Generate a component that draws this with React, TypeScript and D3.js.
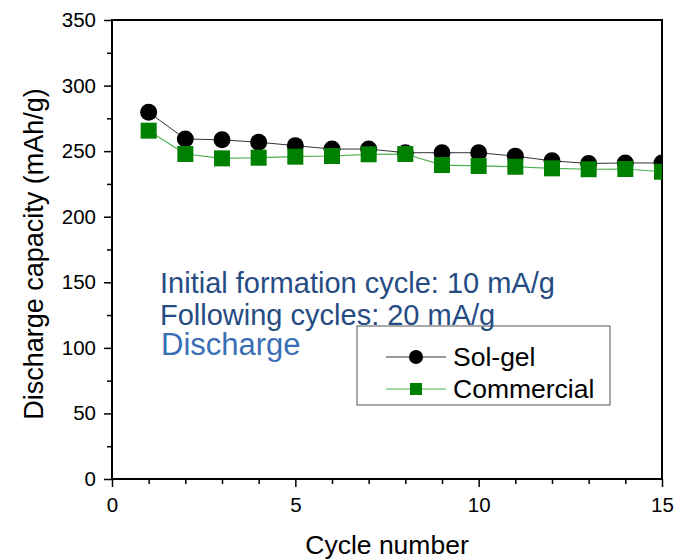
import * as d3 from 'd3';
import { useEffect, useRef } from 'react';

const cycles = [1, 2, 3, 4, 5, 6, 7, 8, 9, 10, 11, 12, 13, 14, 15];
const solGel = [279.6, 259.3, 258.6, 256.8, 254.2, 251.6, 251.6, 248.8, 248.8, 248.8, 246.2, 242.6, 240.6, 241, 241];
const commercial = [265.6, 247.8, 244.5, 245, 245.8, 246.3, 247.6, 247.8, 239.4, 238.7, 238.1, 236.9, 236.2, 236.4, 234.3];
const xTicks = [0, 5, 10, 15];
const yTicks = [0, 50, 100, 150, 200, 250, 300, 350];
const notes = ['Initial formation cycle: 10 mA/g', 'Following cycles: 20 mA/g'];

const W = 684;
const H = 560;
const m = { left: 112, right: 22, top: 20, bottom: 81 };
const FONT = '"Liberation Sans", Arial, sans-serif';

const App = () => {
  const ref = useRef<SVGSVGElement | null>(null);

  useEffect(() => {
    if (!ref.current) return;
    const svg = d3.select(ref.current);
    svg.selectAll('*').remove();

    const x = d3.scaleLinear().domain([0, 15]).range([m.left, W - m.right]);
    const y = d3.scaleLinear().domain([0, 350]).range([H - m.bottom, m.top]);

    svg.append('rect').attr('width', W).attr('height', H).attr('fill', 'white');

    svg.append('defs').append('clipPath').attr('id', 'plotclip')
      .append('rect')
      .attr('x', m.left).attr('y', m.top)
      .attr('width', W - m.left - m.right).attr('height', H - m.top - m.bottom);

    // axes
    const xAxis = svg.append('g').attr('transform', `translate(0,${H - m.bottom})`)
      .call(d3.axisBottom(x).tickValues(d3.range(0, 16)).tickSize(8)
        .tickFormat(d => (xTicks.includes(+d) ? String(d) : '')));
    xAxis.selectAll('.tick line').attr('y2', (d: any) => (xTicks.includes(d) ? 8 : 5));
    const yAxis = svg.append('g').attr('transform', `translate(${m.left},0)`)
      .call(d3.axisLeft(y).tickValues(d3.range(0, 351, 25)).tickSize(8)
        .tickFormat(d => (yTicks.includes(+d) ? String(d) : '')));
    yAxis.selectAll('.tick line').attr('x2', (d: any) => (yTicks.includes(d) ? -8 : -5));
    [xAxis, yAxis].forEach(a => {
      a.selectAll('.domain').remove();
      a.selectAll('.tick line').attr('stroke', '#000').attr('stroke-width', 1.5);
      a.selectAll('text').attr('font-family', FONT).attr('font-size', 20.5).attr('fill', '#000');
    });
    xAxis.selectAll('text').attr('dy', '1.05em');
    yAxis.selectAll('text').attr('x', -16);

    svg.append('rect')
      .attr('x', m.left).attr('y', m.top)
      .attr('width', W - m.left - m.right).attr('height', H - m.top - m.bottom)
      .attr('fill', 'none').attr('stroke', '#000').attr('stroke-width', 2);

    const plot = svg.append('g').attr('clip-path', 'url(#plotclip)');
    const line = d3.line<number>().x((_, i) => x(cycles[i])).y(d => y(d));

    plot.append('path').datum(solGel).attr('d', line)
      .attr('fill', 'none').attr('stroke', '#333').attr('stroke-width', 1);
    plot.selectAll('.sg').data(solGel).enter().append('circle')
      .attr('cx', (_, i) => x(cycles[i])).attr('cy', d => y(d)).attr('r', 8.5).attr('fill', '#000');

    plot.append('path').datum(commercial).attr('d', line)
      .attr('fill', 'none').attr('stroke', '#4caf50').attr('stroke-width', 1.2);
    plot.selectAll('.cm').data(commercial).enter().append('rect')
      .attr('x', (_, i) => x(cycles[i]) - 8).attr('y', d => y(d) - 8)
      .attr('width', 16).attr('height', 16).attr('fill', '#008000');

    // legend
    const lg = svg.append('g');
    lg.append('rect').attr('x', 357).attr('y', 326).attr('width', 253).attr('height', 79)
      .attr('fill', 'white').attr('stroke', '#555').attr('stroke-width', 1);
    lg.append('line').attr('x1', 386).attr('x2', 446).attr('y1', 357).attr('y2', 357)
      .attr('stroke', '#333').attr('stroke-width', 1);
    lg.append('circle').attr('cx', 416).attr('cy', 357).attr('r', 7).attr('fill', '#000');
    lg.append('text').attr('x', 453).attr('y', 366).attr('font-family', FONT)
      .attr('font-size', 26.5).attr('fill', '#000').text('Sol-gel');
    lg.append('line').attr('x1', 386).attr('x2', 446).attr('y1', 389).attr('y2', 389)
      .attr('stroke', '#4caf50').attr('stroke-width', 1.2);
    lg.append('rect').attr('x', 410).attr('y', 383).attr('width', 12).attr('height', 12).attr('fill', '#008000');
    lg.append('text').attr('x', 453).attr('y', 398).attr('font-family', FONT)
      .attr('font-size', 26.5).attr('fill', '#000').text('Commercial');

    // annotations (drawn over the legend frame, as in the original)
    svg.selectAll('.note').data(notes).enter().append('text')
      .attr('x', 160).attr('y', (_, i) => 293 + i * 32)
      .attr('font-family', FONT).attr('font-size', 29).attr('fill', '#264c84')
      .text(d => d);
    svg.append('text').attr('x', 161).attr('y', 355)
      .attr('font-family', FONT).attr('font-size', 31).attr('fill', '#3a6fb6')
      .text('Discharge');

    // axis titles
    svg.append('text').attr('x', 387).attr('y', 554)
      .attr('text-anchor', 'middle').attr('font-family', FONT).attr('font-size', 26.5)
      .text('Cycle number');
    svg.append('text').attr('transform', `translate(43,254) rotate(-90)`)
      .attr('text-anchor', 'middle').attr('font-family', FONT).attr('font-size', 27)
      .text('Discharge capacity (mAh/g)');
  }, []);

  return (
    <svg ref={ref} width={W} height={H} style={{ position: 'absolute', left: 0, top: 0 }} />
  );
};

export default App;
